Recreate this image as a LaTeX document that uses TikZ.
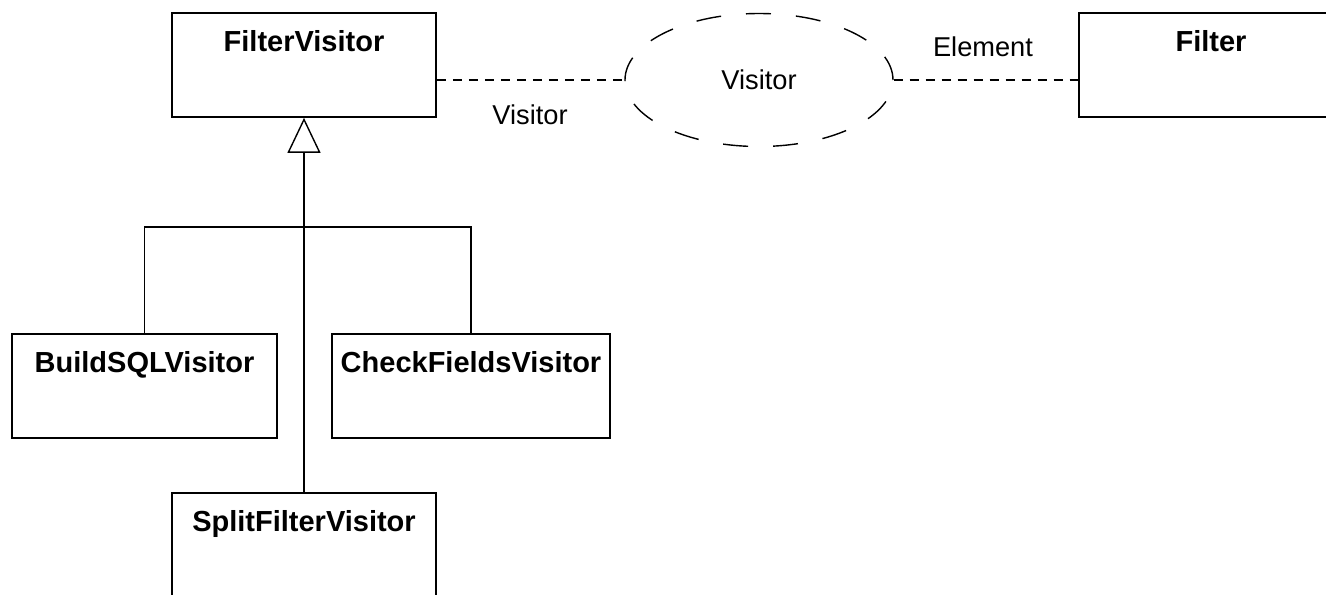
\documentclass[tikz,border=0pt]{standalone}
\usepackage{fontspec}
\setmainfont{Liberation Sans}
\usetikzlibrary{positioning}
\usetikzlibrary{shapes.geometric}
\usetikzlibrary{arrows.meta}
\def\boxwidth{5.28cm}
\def\boxheight{2.08cm}

\begin{document}
\begin{tikzpicture}[line width=0.8pt]
        \tikzstyle{class}=[draw, line width=1pt, minimum width=\boxwidth, minimum height=\boxheight, inner sep=0pt]
        \tikzstyle{title}=[anchor=center, yshift=-0.66cm, text height=0.72em, text depth=0pt, font=\fontsize{16.5}{19}\selectfont\bfseries]
        \tikzstyle{collab}=[draw, ellipse, dash pattern=on 0.5cm off 0.5cm, minimum width=5.36cm, minimum height=2.66cm, font=\fontsize{15.5}{18}\selectfont]
        \tikzstyle{role}=[font=\fontsize{15.5}{18}\selectfont]
        \tikzstyle{link}=[dash pattern=on 0.18cm off 0.14cm]

        \useasboundingbox (0,0) rectangle (26.52,-11.88);

        % Draw the class boxes
        \node[class, label={[title]north:FilterVisitor}] (FV) at (6.08,-1.30) {};
        \node[class, label={[title]north:Filter}] (F) at (24.22,-1.30) {};
        \node[class, minimum width=5.30cm, label={[title]north:BuildSQLVisitor}] (BS) at (2.89,-7.72) {};
        \node[class, minimum width=5.56cm, label={[title]north:CheckFieldsVisitor}] (CF) at (9.42,-7.72) {};
        \node[class, label={[title]north:SplitFilterVisitor}] (SF) at (6.08,-10.90) {};

        % Draw the collaboration
        \node[collab] (V) at (15.18,-1.60) {Visitor};

        % Connect the collaboration with its roles
        \draw[link] (V.west -| FV.east) -- (V.west);
        \draw[link] (V.east) -- (V.east -| F.west);
        \node[role] (r1) at (10.60,-2.30) {Visitor};
        \node[role] (r2) at (19.66,-0.94) {Element};

        % Generalization
        \coordinate (bar) at (6.08,-4.54);
        \draw[-{Triangle[open, length=0.7cm, width=0.66cm]}] (SF.north) -- (FV.south);
        \draw (BS.north) |- (bar) -| (CF.north);

\end{tikzpicture}
\end{document}
